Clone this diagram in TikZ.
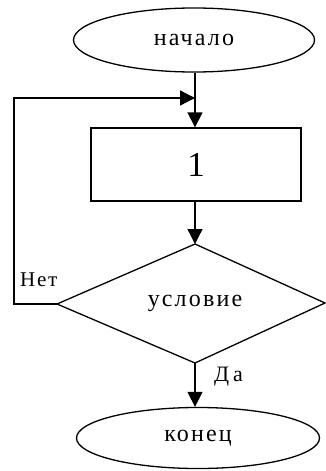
\documentclass[tikz,border=0pt]{standalone}
\usepackage{fontspec}
\setmainfont{Liberation Serif}
\newfontfamily\blockfont[LetterSpace=9]{Liberation Serif}
\usetikzlibrary{arrows.meta,shapes.geometric}
\begin{document}
\begin{tikzpicture}[x=1pt,y=-1pt,
  line/.style={line width=1.3pt, draw=black},
  arrow/.style={line, -{Triangle[length=15pt,width=15pt]}},
  term/.style={ellipse, draw, line width=1.3pt, inner sep=0pt, fill=white,
    font=\blockfont\fontsize{24}{24}\selectfont},
  proc/.style={rectangle, draw, line width=1.3pt, inner sep=0pt,
    font=\fontsize{35}{35}\selectfont},
  cond/.style={inner sep=0pt, font=\blockfont\fontsize{24}{24}\selectfont},
  tag/.style={inner sep=0pt, font=\fontsize{21}{21}\selectfont\addfontfeature{LetterSpace=8}}]
\useasboundingbox (0,0) rectangle (326,471);

% start and end terminals
\node[term, minimum width=241pt, minimum height=64pt] (start) at (194,40) {начало};
\node[term, minimum width=243pt, minimum height=61pt] (stop) at (198,438) {конец};

% process block
\node[proc, minimum width=210pt, minimum height=73pt] (blk) at (196,164.5) {1};

% decision diamond
\coordinate (dtop) at (195,244);
\coordinate (dbot) at (195,363);
\coordinate (dleft) at (57,304);
\coordinate (dright) at (325,303);
\draw[line] (dtop) -- (dright) -- (dbot) -- (dleft) -- cycle;
\node[cond] (cnd) at (195,303) {условие};

% flow
\coordinate (join) at (195,98);
\coordinate (loopa) at (14,304);
\coordinate (loopb) at (14,98);
\draw[arrow] (start.south -| join) -- (blk.north -| join);
\draw[arrow] (blk.south -| dtop) -- (dtop);
\draw[arrow] (dbot) -- (stop.north -| dbot);
\draw[arrow] (dleft) -- (loopa) -- (loopb) -- (join);

% branch labels
\node[tag, anchor=base west] (no) at (20,286) {Нет};
\node[tag, anchor=base west, font=\fontsize{22}{22}\selectfont\addfontfeature{LetterSpace=18}] (yes) at (214,381) {Да};
\end{tikzpicture}
\end{document}
